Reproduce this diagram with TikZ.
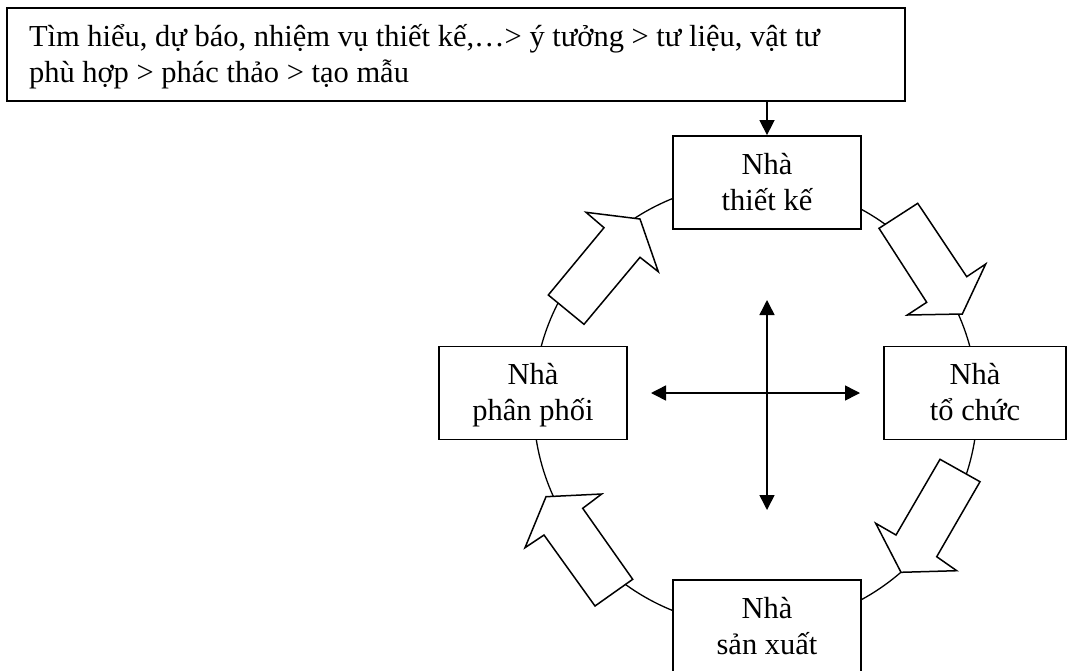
\documentclass[tikz,border=0pt]{standalone}
\usepackage{fontspec}
\setmainfont{Liberation Serif}
\usetikzlibrary{arrows.meta}
\newcommand{\twoline}[3]{\vbox to 93pt{\offinterlineskip\vskip38pt\hbox to #1{\hfil\smash{#2}\hfil}\vskip36pt\hbox to #1{\hfil\smash{#3}\hfil}\vfil}}
\newcommand{\leftlines}[3]{\vbox to 93pt{\offinterlineskip\vskip38pt\hbox to #1{\hskip22pt\smash{#2}\hfil}\vskip36pt\hbox to #1{\hskip22pt\smash{#3}\hfil}\vfil}}
\begin{document}
\begin{tikzpicture}[x=1pt,y=-1pt,
  box/.style={draw, line width=1.8pt, fill=white, inner sep=0pt, minimum width=188pt, minimum height=93pt, font=\fontsize{30.5}{36}\selectfont},
  blockarrow/.style={draw, fill=white, line width=1.5pt, line join=miter},
  ring/.style={draw, line width=1.3pt},
  conn/.style={line width=1.5pt, -{Triangle[length=15pt,width=15pt]}},
  twoway/.style={line width=1.5pt, {Triangle[length=15pt,width=15pt]}-{Triangle[length=15pt,width=15pt]}}]
\clip (0,0) rectangle (1067,670);
\fill[white] (0,0) rectangle (1067,670);
\coordinate (o) at (755.5,404.5);
\draw[ring] (o) circle (222pt);
\node[box, minimum width=898pt] (brief) at (456,54.5) {\leftlines{898pt}{Tìm hiểu, dự báo, nhiệm vụ thiết kế,…> ý tưởng > tư liệu, vật tư}{phù hợp > phác thảo > tạo mẫu}};
\node[box] (tk) at (767,182.5) {\twoline{188pt}{Nhà}{thiết kế}};
\node[box] (pp) at (533,393) {\twoline{188pt}{Nhà}{phân phối}};
\node[box, minimum width=182pt] (tc) at (975,393) {\twoline{182pt}{Nhà}{tổ chức}};
\node[box] (sx) at (767,626.5) {\twoline{188pt}{Nhà}{sản xuất}};
\draw[conn] (brief.south -| tk.north) -- (tk.north);
\coordinate (up) at (767,300);
\coordinate (dn) at (767,510);
\coordinate (lf) at (651,393);
\coordinate (rt) at (860,393);
\draw[twoway] (lf) -- (rt);
\draw[twoway] (up) -- (dn);
% hollow block arrows round the ring
\draw[blockarrow] (548.3,295) -- (604,227.7) -- (586,212.3) -- (640,219) -- (658.3,271.7) -- (640,257.3) -- (584,324.3) -- cycle;
\draw[blockarrow] (879,228.3) -- (917.7,203.3) -- (966.7,276.7) -- (985.7,264) -- (962.3,314) -- (907.3,315) -- (926.7,302.3) -- cycle;
\draw[blockarrow] (980,481.7) -- (940,459.3) -- (896,535) -- (875.7,523.3) -- (901,572.3) -- (956.7,570.7) -- (936.7,556.7) -- cycle;
\draw[blockarrow] (632.7,579.3) -- (595,606) -- (544,535) -- (525,547.7) -- (546,496.7) -- (601.7,494) -- (582.7,508.3) -- cycle;
\end{tikzpicture}
\end{document}
